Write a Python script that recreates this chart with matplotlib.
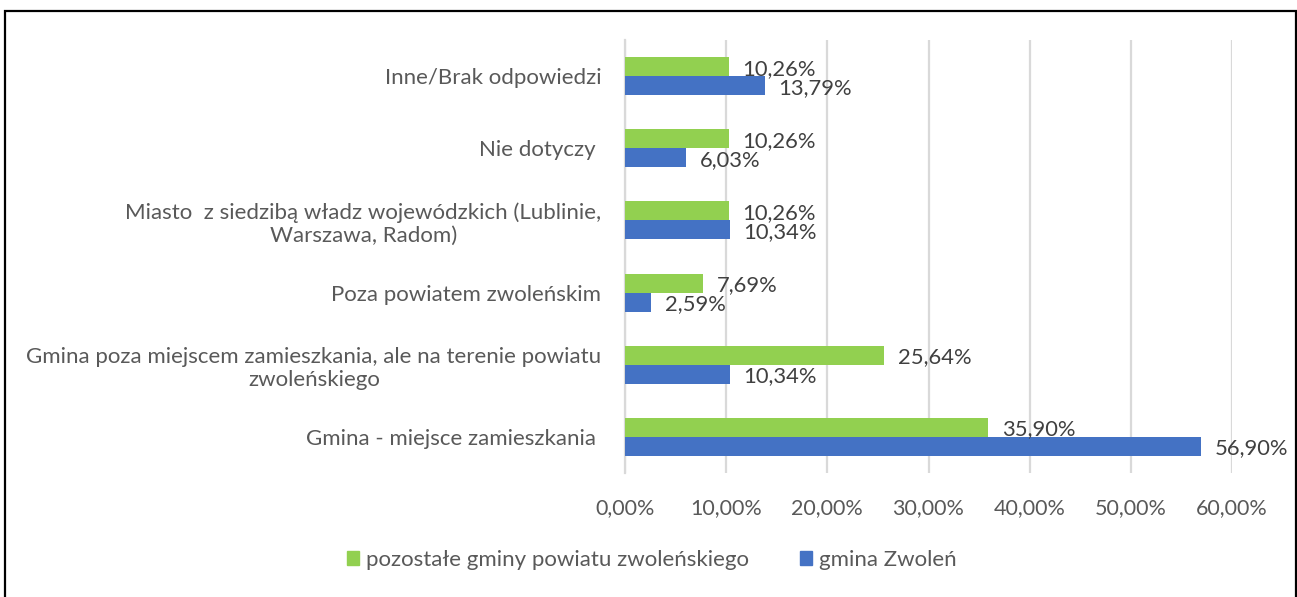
import matplotlib
matplotlib.use("Agg")
import matplotlib.pyplot as plt
from matplotlib.patches import Rectangle, Patch
import numpy as np

plt.rcParams['font.family'] = ['Lato', 'DejaVu Sans']

# categories bottom -> top
categories = [
    "Gmina - miejsce zamieszkania ",
    "Gmina poza miejscem zamieszkania, ale na terenie powiatu\nzwoleńskiego",
    "Poza powiatem zwoleńskim",
    "Miasto  z siedzibą władz wojewódzkich (Lublinie,\nWarszawa, Radom)",
    "Nie dotyczy ",
    "Inne/Brak odpowiedzi",
]
pozostale = [35.90, 25.64, 7.69, 10.26, 10.26, 10.26]
zwolen = [56.90, 10.34, 2.59, 10.34, 6.03, 13.79]
series_names = ["pozostałe gminy powiatu zwoleńskiego", "gmina Zwoleń"]
xticks = [0, 10, 20, 30, 40, 50, 60]

GREEN = "#92D050"
BLUE = "#4472C4"
TICK_C = "#595959"
LABEL_C = "#404040"

W, H = 1297, 597
fig = plt.figure(figsize=(W/100, H/100), dpi=100)
ax = fig.add_axes([625/W, (H-473)/H, (1232-625)/W, (473-40)/H])

y = np.arange(len(categories))
h = 0.263
bg = ax.barh(y + h/2, pozostale, height=h, color=GREEN, zorder=3)
bb = ax.barh(y - h/2, zwolen, height=h, color=BLUE, zorder=3)

def fmt(v):
    return f"{v:.2f}%".replace(".", ",")

for bars, vals in ((bg, pozostale), (bb, zwolen)):
    for b, v in zip(bars, vals):
        ax.annotate(fmt(v), (b.get_width(), b.get_y() + b.get_height()/2),
                    xytext=(10, -1.5), textcoords="offset points",
                    va="center", ha="left", fontsize=15.8, color=LABEL_C, zorder=4)

ax.set_xlim(0, 60)
ax.set_ylim(-0.5, len(categories) - 0.5)
ax.set_xticks(xticks)
ax.set_xticklabels([fmt(t) for t in xticks], fontsize=15.5, color=TICK_C)
ax.set_yticks(y)
ax.set_yticklabels(categories, fontsize=16, color=TICK_C, multialignment="center")
ax.tick_params(axis="both", length=0)
ax.tick_params(axis="x", pad=18)
ax.tick_params(axis="y", pad=17)
ax.grid(axis="x", color="#D9D9D9", linewidth=1.6, zorder=0)
for s in ["top", "right", "bottom"]:
    ax.spines[s].set_visible(False)
ax.spines["left"].set_color("#D9D9D9")
ax.spines["left"].set_linewidth(1.6)

handles = [Patch(color=GREEN), Patch(color=BLUE)]
fig.legend(handles, series_names, loc="center", bbox_to_anchor=(652/W, (H-560)/H),
           ncol=2, frameon=False, fontsize=16, labelcolor=TICK_C,
           handlelength=0.55, handleheight=0.55, handletextpad=0.3, columnspacing=2.3)

fig.patches.append(Rectangle((5/W, -0.05), (1296-5)/W, (H-11)/H + 0.05,
                             transform=fig.transFigure, fill=False,
                             edgecolor="black", linewidth=1.6))

fig.savefig("out.png", dpi=100)
